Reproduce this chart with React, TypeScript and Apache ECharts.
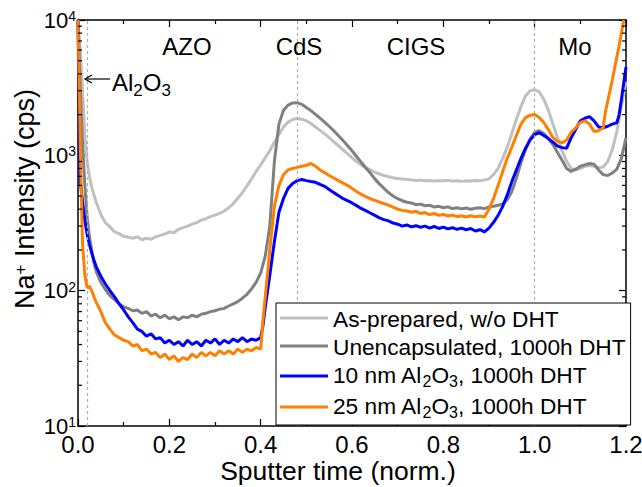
import React, { useEffect, useRef } from 'react';
import * as echarts from 'echarts';

const FONT = '"Liberation Sans", Arial, Helvetica, sans-serif';

const seriesNames = [
  'As-prepared, w/o DHT',
  'Unencapsulated, 1000h DHT',
  '10 nm Al2O3, 1000h DHT',
  '25 nm Al2O3, 1000h DHT',
];
const seriesColors = ['#c0c0c0', '#808080', '#0000ff', '#ff7f00'];

// [sputter time (norm.), Na+ intensity (cps)]
const asPrepared: [number, number][] = [
  [0, 10000], [0.005, 6000], [0.01, 3000], [0.015, 1400], [0.02, 900], [0.025, 700], [0.03, 580], [0.035, 510],
  [0.04, 450], [0.05, 365], [0.06, 318], [0.07, 296], [0.08, 272], [0.09, 264], [0.1, 252], [0.11, 248],
  [0.12, 244], [0.13, 250], [0.14, 238], [0.15, 244], [0.16, 240], [0.17, 250], [0.18, 256], [0.19, 262],
  [0.2, 272], [0.21, 268], [0.22, 284], [0.23, 292], [0.24, 300], [0.25, 310], [0.26, 318], [0.27, 332],
  [0.28, 340], [0.29, 352], [0.3, 362], [0.31, 372], [0.32, 388], [0.33, 410], [0.34, 440], [0.35, 482],
  [0.36, 530], [0.37, 595], [0.38, 670], [0.39, 760], [0.4, 850], [0.41, 960], [0.42, 1080], [0.43, 1250],
  [0.44, 1430], [0.45, 1620], [0.46, 1760], [0.47, 1840], [0.48, 1870], [0.49, 1850], [0.5, 1800], [0.51, 1720],
  [0.52, 1620], [0.53, 1530], [0.54, 1440], [0.55, 1350], [0.56, 1260], [0.57, 1180], [0.58, 1100], [0.59, 1030],
  [0.6, 960], [0.61, 900], [0.62, 850], [0.63, 810], [0.64, 780], [0.65, 750], [0.66, 728], [0.67, 710],
  [0.68, 695], [0.69, 682], [0.7, 675], [0.71, 668], [0.72, 662], [0.73, 660], [0.74, 652], [0.75, 656],
  [0.76, 648], [0.77, 652], [0.78, 645], [0.79, 650], [0.8, 648], [0.81, 655], [0.82, 645], [0.83, 650],
  [0.84, 642], [0.85, 650], [0.86, 646], [0.87, 652], [0.88, 650], [0.89, 656], [0.9, 670], [0.91, 720],
  [0.92, 800], [0.93, 950], [0.94, 1150], [0.95, 1450], [0.96, 1850], [0.97, 2300], [0.98, 2750], [0.99, 3000],
  [1.0, 3050], [1.01, 2950], [1.02, 2600], [1.03, 2150], [1.04, 1700], [1.05, 1350], [1.06, 1080], [1.07, 900],
  [1.08, 800], [1.09, 780], [1.1, 800], [1.11, 830], [1.12, 840], [1.13, 830], [1.14, 810], [1.15, 820],
  [1.16, 900], [1.17, 1100], [1.18, 1500], [1.19, 2300], [1.2, 3500],
];

const unencapsulated: [number, number][] = [
  [0, 10000], [0.005, 3000], [0.01, 1200], [0.015, 600], [0.02, 350], [0.025, 250], [0.03, 200], [0.035, 160],
  [0.04, 138], [0.05, 115], [0.06, 102], [0.07, 92], [0.08, 86], [0.09, 80], [0.1, 76], [0.11, 74],
  [0.12, 71], [0.13, 72], [0.14, 68], [0.15, 70], [0.16, 65], [0.17, 67], [0.18, 63], [0.19, 66],
  [0.2, 62], [0.21, 64], [0.22, 61], [0.23, 64], [0.24, 63], [0.25, 66], [0.26, 64], [0.27, 67],
  [0.28, 68], [0.29, 70], [0.3, 71], [0.31, 73], [0.32, 74], [0.33, 77], [0.34, 80], [0.35, 83],
  [0.36, 88], [0.37, 94], [0.38, 103], [0.39, 115], [0.4, 135], [0.41, 180], [0.42, 300], [0.43, 900],
  [0.44, 1700], [0.45, 2150], [0.46, 2350], [0.47, 2440], [0.48, 2450], [0.49, 2380], [0.5, 2260], [0.51, 2140],
  [0.52, 2010], [0.53, 1880], [0.54, 1760], [0.55, 1640], [0.56, 1520], [0.57, 1400], [0.58, 1290], [0.59, 1180],
  [0.6, 1080], [0.61, 980], [0.62, 890], [0.63, 810], [0.64, 740], [0.65, 670], [0.66, 615], [0.67, 570],
  [0.68, 530], [0.69, 500], [0.7, 478], [0.71, 462], [0.72, 450], [0.73, 445], [0.74, 432], [0.75, 436],
  [0.76, 424], [0.77, 428], [0.78, 415], [0.79, 420], [0.8, 410], [0.81, 416], [0.82, 404], [0.83, 410],
  [0.84, 402], [0.85, 408], [0.86, 400], [0.87, 406], [0.88, 410], [0.89, 404], [0.9, 415], [0.91, 420],
  [0.92, 428], [0.93, 438], [0.94, 470], [0.95, 540], [0.96, 680], [0.97, 880], [0.98, 1100], [0.99, 1320],
  [1.0, 1480], [1.01, 1520], [1.02, 1450], [1.03, 1330], [1.04, 1200], [1.05, 1050], [1.06, 920], [1.07, 800],
  [1.08, 760], [1.09, 790], [1.1, 830], [1.11, 850], [1.12, 870], [1.13, 860], [1.14, 780], [1.15, 720],
  [1.16, 710], [1.17, 740], [1.18, 790], [1.19, 950], [1.2, 1350],
];

const al2o3_10nm: [number, number][] = [
  [0, 10000], [0.004, 700], [0.01, 450], [0.015, 330], [0.02, 260], [0.025, 220], [0.03, 190], [0.035, 168],
  [0.04, 150], [0.05, 128], [0.06, 112], [0.07, 100], [0.08, 90], [0.09, 80], [0.1, 72], [0.11, 64],
  [0.12, 58], [0.13, 52], [0.14, 50], [0.15, 46], [0.16, 48], [0.17, 44], [0.18, 45], [0.19, 41],
  [0.2, 43], [0.21, 40], [0.22, 42], [0.23, 39], [0.24, 43], [0.25, 40], [0.26, 42], [0.27, 39],
  [0.28, 43], [0.29, 41], [0.3, 44], [0.31, 40], [0.32, 43], [0.33, 41], [0.34, 44], [0.35, 42],
  [0.36, 45], [0.37, 42], [0.38, 44], [0.39, 43], [0.4, 45], [0.405, 55], [0.41, 75], [0.42, 130],
  [0.43, 230], [0.44, 380], [0.45, 480], [0.46, 570], [0.47, 620], [0.48, 650], [0.49, 662], [0.5, 650],
  [0.51, 640], [0.52, 632], [0.53, 610], [0.54, 590], [0.55, 560], [0.56, 530], [0.57, 505], [0.58, 480],
  [0.59, 462], [0.6, 445], [0.61, 425], [0.62, 405], [0.63, 390], [0.64, 375], [0.65, 360], [0.66, 345],
  [0.67, 335], [0.68, 328], [0.69, 316], [0.7, 310], [0.71, 300], [0.72, 306], [0.73, 296], [0.74, 302],
  [0.75, 294], [0.76, 300], [0.77, 290], [0.78, 298], [0.79, 288], [0.8, 295], [0.81, 286], [0.82, 292],
  [0.83, 284], [0.84, 290], [0.85, 282], [0.86, 288], [0.87, 276], [0.88, 282], [0.89, 272], [0.9, 290],
  [0.91, 320], [0.92, 360], [0.93, 420], [0.94, 510], [0.95, 640], [0.96, 780], [0.97, 950], [0.98, 1130],
  [0.99, 1300], [1.0, 1420], [1.01, 1470], [1.02, 1400], [1.03, 1330], [1.04, 1250], [1.05, 1170], [1.06, 1140],
  [1.07, 1130], [1.08, 1350], [1.09, 1560], [1.1, 1800], [1.11, 1880], [1.12, 1930], [1.13, 1800], [1.14, 1620],
  [1.15, 1600], [1.16, 1640], [1.17, 1700], [1.18, 1740], [1.185, 2000], [1.19, 2600], [1.2, 4500],
];

const al2o3_25nm: [number, number][] = [
  [0, 10000], [0.003, 3000], [0.006, 800], [0.01, 220], [0.015, 130], [0.02, 105], [0.025, 108], [0.03, 100],
  [0.035, 90], [0.04, 82], [0.045, 76], [0.05, 70], [0.06, 58], [0.07, 52], [0.08, 47], [0.09, 45],
  [0.1, 43], [0.11, 42], [0.12, 39], [0.13, 40], [0.14, 36], [0.15, 37], [0.16, 34], [0.17, 35],
  [0.18, 32], [0.19, 34], [0.2, 31], [0.21, 33], [0.22, 30], [0.23, 32], [0.24, 31], [0.25, 34],
  [0.26, 32], [0.27, 35], [0.28, 33], [0.29, 35], [0.3, 33], [0.31, 36], [0.32, 34], [0.33, 36],
  [0.34, 34], [0.35, 37], [0.36, 35], [0.37, 37], [0.38, 36], [0.39, 38], [0.4, 37], [0.405, 60],
  [0.41, 90], [0.42, 200], [0.43, 420], [0.44, 600], [0.45, 720], [0.46, 780], [0.47, 800], [0.48, 815],
  [0.49, 830], [0.5, 845], [0.51, 870], [0.52, 830], [0.53, 780], [0.54, 745], [0.55, 710], [0.56, 680],
  [0.57, 650], [0.58, 625], [0.59, 600], [0.6, 570], [0.61, 540], [0.62, 515], [0.63, 495], [0.64, 478],
  [0.65, 465], [0.66, 452], [0.67, 440], [0.68, 428], [0.69, 415], [0.7, 400], [0.71, 392], [0.72, 388],
  [0.73, 380], [0.74, 386], [0.75, 372], [0.76, 378], [0.77, 365], [0.78, 372], [0.79, 360], [0.8, 366],
  [0.81, 356], [0.82, 362], [0.83, 352], [0.84, 358], [0.85, 350], [0.86, 358], [0.87, 352], [0.88, 356],
  [0.89, 350], [0.9, 400], [0.91, 480], [0.92, 600], [0.93, 760], [0.94, 950], [0.95, 1150], [0.96, 1400],
  [0.97, 1700], [0.98, 1900], [0.99, 1980], [1.0, 2000], [1.01, 1900], [1.02, 1750], [1.03, 1550], [1.04, 1350],
  [1.05, 1270], [1.06, 1240], [1.07, 1300], [1.08, 1480], [1.09, 1600], [1.1, 1750], [1.11, 1800], [1.12, 1700],
  [1.13, 1500], [1.14, 1520], [1.15, 1600], [1.155, 2100], [1.17, 3600], [1.185, 6500], [1.195, 10000],
];

const seriesData = [asPrepared, unencapsulated, al2o3_10nm, al2o3_25nm];

const interfaceX = [0.02, 0.48, 1.0];
const yMinorTickValues = [
  20, 30, 40, 50, 60, 70, 80, 90,
  200, 300, 400, 500, 600, 700, 800, 900,
  2000, 3000, 4000, 5000, 6000, 7000, 8000, 9000,
];
const layerLabels = ['AZO', 'CdS', 'CIGS', 'Mo'];

// layout (pixels)
const GRID = { left: 78, top: 20, width: 548, height: 406 };
const layerLabelPx = [187, 299, 416, 575];
const layerLabelY = 46;

function legendLabel(name: string): string {
  const i = name.indexOf('Al2O3');
  if (i < 0) return `{m|${name}}`;
  return `{m|${name.slice(0, i)}Al}{sub|2}{m|O}{sub|3}{m|${name.slice(i + 5)}}`;
}

export default function App() {
  const ref = useRef<HTMLDivElement>(null);

  useEffect(() => {
    if (!ref.current) return;
    const chart = echarts.init(ref.current, undefined, { renderer: 'svg' });

    const axisLine = { show: true, onZero: false, lineStyle: { color: '#000', width: 1.5 } };
    const tickStyle = { color: '#000', width: 1.2 };

    const option: any = {
      animation: false,
      backgroundColor: '#fff',
      grid: { ...GRID, containLabel: false, outerBoundsMode: 'none' },
      xAxis: [
        {
          type: 'value', min: 0, max: 1.2, interval: 0.2, position: 'bottom',
          axisLine, axisTick: { inside: true, length: 7, lineStyle: tickStyle },
          minorTick: { show: true, splitNumber: 2, length: 4, lineStyle: tickStyle },
          splitLine: { show: false }, minorSplitLine: { show: false },
          axisLabel: {
            formatter: (v: number) => v.toFixed(1), fontSize: 24, lineHeight: 24, margin: 6,
            color: '#000', fontFamily: FONT, hideOverlap: false,
          },
        },
        {
          type: 'value', min: 0, max: 1.2, interval: 0.2, position: 'top',
          axisLine, axisTick: { inside: true, length: 7, lineStyle: tickStyle },
          minorTick: { show: true, splitNumber: 2, length: 4, lineStyle: tickStyle },
          splitLine: { show: false }, axisLabel: { show: false },
        },
      ],
      yAxis: [
        {
          type: 'log', logBase: 10, min: 10, max: 10000, position: 'left',
          axisLine, axisTick: { inside: true, length: 7, lineStyle: tickStyle },
          minorTick: { show: false }, splitLine: { show: false },
          axisLabel: {
            margin: 2,
            formatter: (v: number) => `{b|10}{s|${Math.round(Math.log10(v))}}`,
            rich: {
              b: { fontSize: 22, fontFamily: FONT, color: '#000', lineHeight: 22, verticalAlign: 'top' },
              s: { fontSize: 14, fontFamily: FONT, color: '#000', lineHeight: 14, verticalAlign: 'top' },
            },
          },
        },
        {
          type: 'log', logBase: 10, min: 10, max: 10000, position: 'right',
          axisLine, axisTick: { inside: true, length: 7, lineStyle: tickStyle },
          splitLine: { show: false }, axisLabel: { show: false },
        },
      ],
      legend: {
        orient: 'vertical', left: 276, top: 303,
        icon: 'rect', itemWidth: 48, itemHeight: 3, itemGap: 5,
        padding: [4, 5, 5, 4],
        backgroundColor: '#fff', borderColor: '#000', borderWidth: 1, borderRadius: 0,
        data: seriesNames,
        formatter: (name: string) => legendLabel(name),
        textStyle: {
          fontSize: 22.7, fontFamily: FONT, color: '#000',
          rich: {
            m: { fontSize: 22.7, fontFamily: FONT, color: '#000', lineHeight: 22, verticalAlign: 'top' },
            sub: { fontSize: 16, fontFamily: FONT, color: '#000', verticalAlign: 'top', padding: [10, 0, 0, 0] },
          },
        },
        z: 10,
      },
      series: [
        ...seriesNames.map((name, i) => ({
          name, type: 'line', xAxisIndex: 0, yAxisIndex: 0,
          data: seriesData[i], showSymbol: false, symbol: 'none',
          lineStyle: { color: seriesColors[i], width: 3 }, itemStyle: { color: seriesColors[i] },
          z: 2 + i,
          ...(i === 0
            ? {
                markLine: {
                  silent: true, symbol: 'none', label: { show: false },
                  lineStyle: { color: '#b0b0b0', width: 1.2, type: [3, 3] },
                  data: interfaceX.map((x) => ({ xAxis: x })),
                },
              }
            : {}),
        })),
        {
          type: 'custom', name: 'yMinorTicks', xAxisIndex: 0, yAxisIndex: 0, silent: true, z: 8,
          data: yMinorTickValues.map((v) => [0, v]),
          renderItem: (_params: any, api: any) => {
            const v = api.value(1);
            const p = api.coord([0, v]);
            const q = api.coord([1.2, v]);
            return {
              type: 'group',
              children: [
                { type: 'line', shape: { x1: p[0], y1: p[1], x2: p[0] + 4, y2: p[1] }, style: { stroke: '#000', lineWidth: 1.2 } },
                { type: 'line', shape: { x1: q[0] - 4, y1: q[1], x2: q[0], y2: q[1] }, style: { stroke: '#000', lineWidth: 1.2 } },
              ],
            };
          },
        },
      ],
      graphic: [
        ...layerLabels.map((t, i) => ({
          type: 'text', x: layerLabelPx[i], y: layerLabelY, z: 20,
          style: { text: t, fontSize: 24, fontFamily: FONT, fill: '#000', align: 'center', verticalAlign: 'middle' },
        })),
        {
          type: 'text', x: 112, y: 70, z: 20,
          style: {
            text: '{m|Al}{sub|2}{m|O}{sub|3}',
            fill: '#000', align: 'left', verticalAlign: 'top',
            rich: {
              m: { fontSize: 24, fontFamily: FONT, fill: '#000', lineHeight: 24, verticalAlign: 'top' },
              sub: { fontSize: 17, fontFamily: FONT, fill: '#000', verticalAlign: 'top', padding: [12, 0, 0, 0] },
            },
          },
        },
        {
          type: 'line', z: 20,
          shape: { x1: 85, y1: 79, x2: 110, y2: 79 },
          style: { stroke: '#000', lineWidth: 1.2 },
        },
        {
          type: 'polyline', z: 20,
          shape: { points: [[92, 75], [85, 79], [92, 83]] },
          style: { stroke: '#000', lineWidth: 1.2, fill: 'none' },
        },
        {
          // x-axis title
          type: 'text', x: 338, y: 470.5, z: 20,
          style: {
            text: 'Sputter time (norm.)', fontSize: 26.5, lineHeight: 26, fontFamily: FONT, fill: '#000',
            align: 'center', verticalAlign: 'middle',
          },
        },
        {
          // y-axis title
          type: 'text', x: 25, y: 199, rotation: Math.PI / 2, z: 20,
          style: {
            text: '{n|Na}{s|+}{n| Intensity (cps)}',
            fill: '#000', align: 'center', verticalAlign: 'middle',
            rich: {
              n: { fontSize: 27, fontFamily: FONT, fill: '#000', lineHeight: 27, verticalAlign: 'top' },
              s: { fontSize: 17, fontFamily: FONT, fill: '#000', lineHeight: 17, verticalAlign: 'top' },
            },
          },
        },
      ],
    };

    chart.setOption(option);
    return () => chart.dispose();
  }, []);

  return <div ref={ref} style={{ position: 'fixed', left: 0, top: 0, width: 642, height: 487 }} />;
}
